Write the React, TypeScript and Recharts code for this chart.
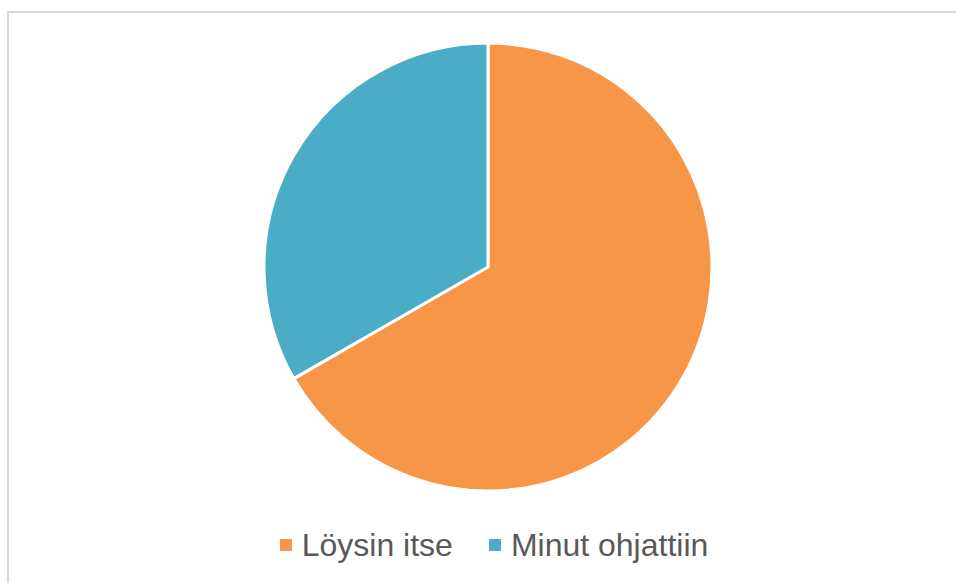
import { PieChart, Pie, Cell, Legend } from 'recharts';

const LABELS = ['Löysin itse', 'Minut ohjattiin'];
const VALUES = [66.7, 33.3];
const COLORS = ['#F79646', '#4BACC6'];

const data = LABELS.map((name, i) => ({ name, value: VALUES[i] }));

const renderLegend = () => (
  <div style={{ display: 'flex', justifyContent: 'center', alignItems: 'center', paddingLeft: 32 }}>
    {data.map((d, i) => (
      <div key={d.name} style={{ display: 'flex', alignItems: 'center', marginRight: i === 0 ? 36 : 0 }}>
        <span style={{ width: 12, height: 12, background: COLORS[i], display: 'inline-block', marginRight: 10 }} />
        <span style={{ fontSize: 32, color: '#595959', lineHeight: '36px' }}>{d.name}</span>
      </div>
    ))}
  </div>
);

export default function App() {
  return (
    <div style={{ position: 'absolute', left: 0, top: 0, width: 956, height: 583, overflow: 'hidden', background: '#fff', fontFamily: '"Liberation Sans", Arial, sans-serif' }}>
      <div style={{ position: 'absolute', left: 7, top: 11, width: 980, height: 600, border: '2px solid #d9d9d9' }} />
      <div style={{ position: 'absolute', left: 0, top: 0 }}>
        <PieChart width={956} height={583}>
          <Pie
            data={data}
            dataKey="value"
            nameKey="name"
            cx={483}
            cy={262}
            startAngle={90}
            endAngle={-270}
            outerRadius={224}
            stroke="#ffffff"
            strokeWidth={3}
            isAnimationActive={false}
          >
            {data.map((d, i) => (
              <Cell key={d.name} fill={COLORS[i]} />
            ))}
          </Pie>
          <Legend content={renderLegend} wrapperStyle={{ left: 0, top: 527, width: 956, bottom: 'auto' }} />
        </PieChart>
      </div>
    </div>
  );
}
